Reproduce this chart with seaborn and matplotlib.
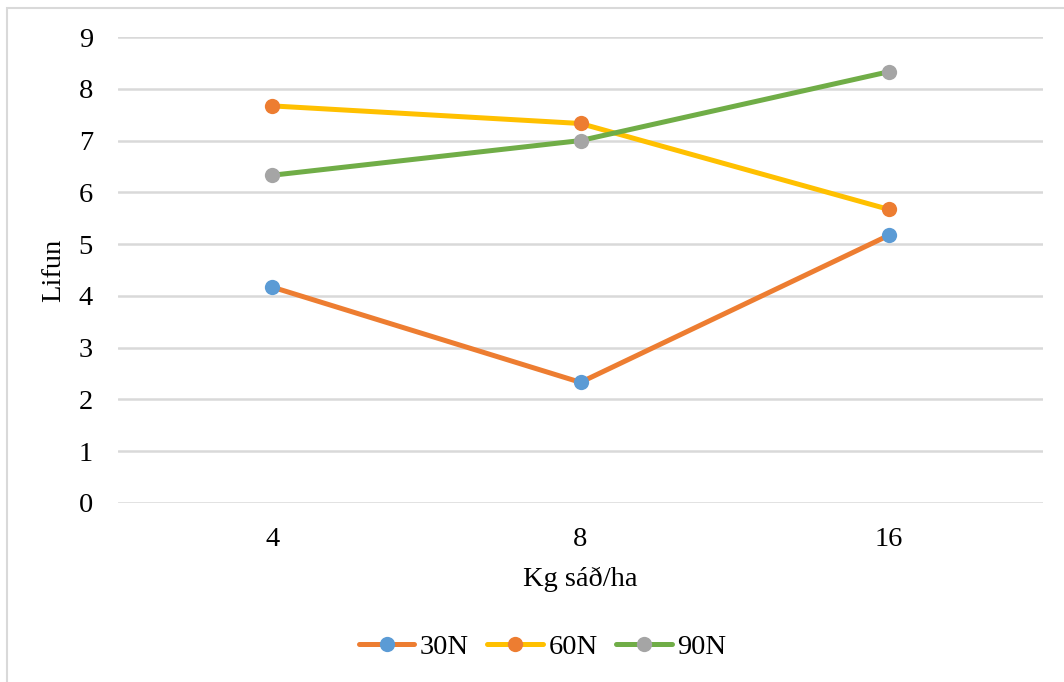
import matplotlib
matplotlib.use("Agg")
import matplotlib.pyplot as plt
from matplotlib.patches import Rectangle
import pandas as pd
import seaborn as sns

# Seeding rate categories (x axis) and survival per nitrogen level
categories = ["4", "8", "16"]
series_names = ["30N", "60N", "90N"]
values_30n = [4.17, 2.33, 5.17]
values_60n = [7.67, 7.33, 5.67]
values_90n = [6.33, 7.00, 8.33]
y_ticks = [0, 1, 2, 3, 4, 5, 6, 7, 8, 9]

line_colors = ["#ED7D31", "#FFC000", "#70AD47"]
marker_colors = ["#5B9BD5", "#ED7D31", "#A5A5A5"]

FS = 20.5

sns.set_theme(style="white")
plt.rcParams["font.family"] = ["Liberation Serif", "DejaVu Serif"]
plt.rcParams["text.color"] = "black"
plt.rcParams["axes.labelcolor"] = "black"
plt.rcParams["xtick.color"] = "black"
plt.rcParams["ytick.color"] = "black"

df = pd.DataFrame({
    "pos": list(range(len(categories))) * 3,
    "value": values_30n + values_60n + values_90n,
    "series": [s for s in series_names for _ in categories],
})

fig = plt.figure(figsize=(10.64, 6.82), dpi=100)
ax = fig.add_axes([0.1109, 0.2625, 0.8694, 0.6832])

for name, lc, mc in zip(series_names, line_colors, marker_colors):
    sub = df[df["series"] == name]
    sns.lineplot(data=sub, x="pos", y="value", ax=ax, color=lc, linewidth=3.6,
                 marker="o", markersize=11, markerfacecolor=mc,
                 markeredgecolor=mc, markeredgewidth=0, label=name,
                 solid_capstyle="round", zorder=3)

ax.set_xlim(-0.5, len(categories) - 0.5)
ax.set_ylim(0, 9)
ax.set_xticks(range(len(categories)))
ax.set_xticklabels(categories)
ax.set_yticks(y_ticks)
ax.tick_params(axis="both", length=0, labelsize=FS, colors="black")
ax.tick_params(axis="x", pad=17)
ax.tick_params(axis="y", pad=18)
ax.yaxis.grid(True, color="#D9D9D9", linewidth=1.8)
ax.xaxis.grid(False)
for sp in ax.spines.values():
    sp.set_visible(False)

ax.set_xlabel("Kg sáð/ha", fontsize=FS, labelpad=11, color="black")
ax.set_ylabel("Lifun", fontsize=FS, labelpad=9, color="black")

ax.legend(loc="center", bbox_to_anchor=(0.51, 0.051), bbox_transform=fig.transFigure,
          ncol=3, frameon=False, fontsize=FS, handlelength=1.95,
          columnspacing=0.65, handletextpad=0.2, labelcolor="black")

# Chart area border
fig.patches.append(Rectangle((7 / 1064, -0.05), 1.1, 0.05 + (1 - 8 / 682),
                             transform=fig.transFigure, fill=False,
                             edgecolor="#D9D9D9", linewidth=1.5, zorder=0))

fig.savefig("out.png", dpi=100)
